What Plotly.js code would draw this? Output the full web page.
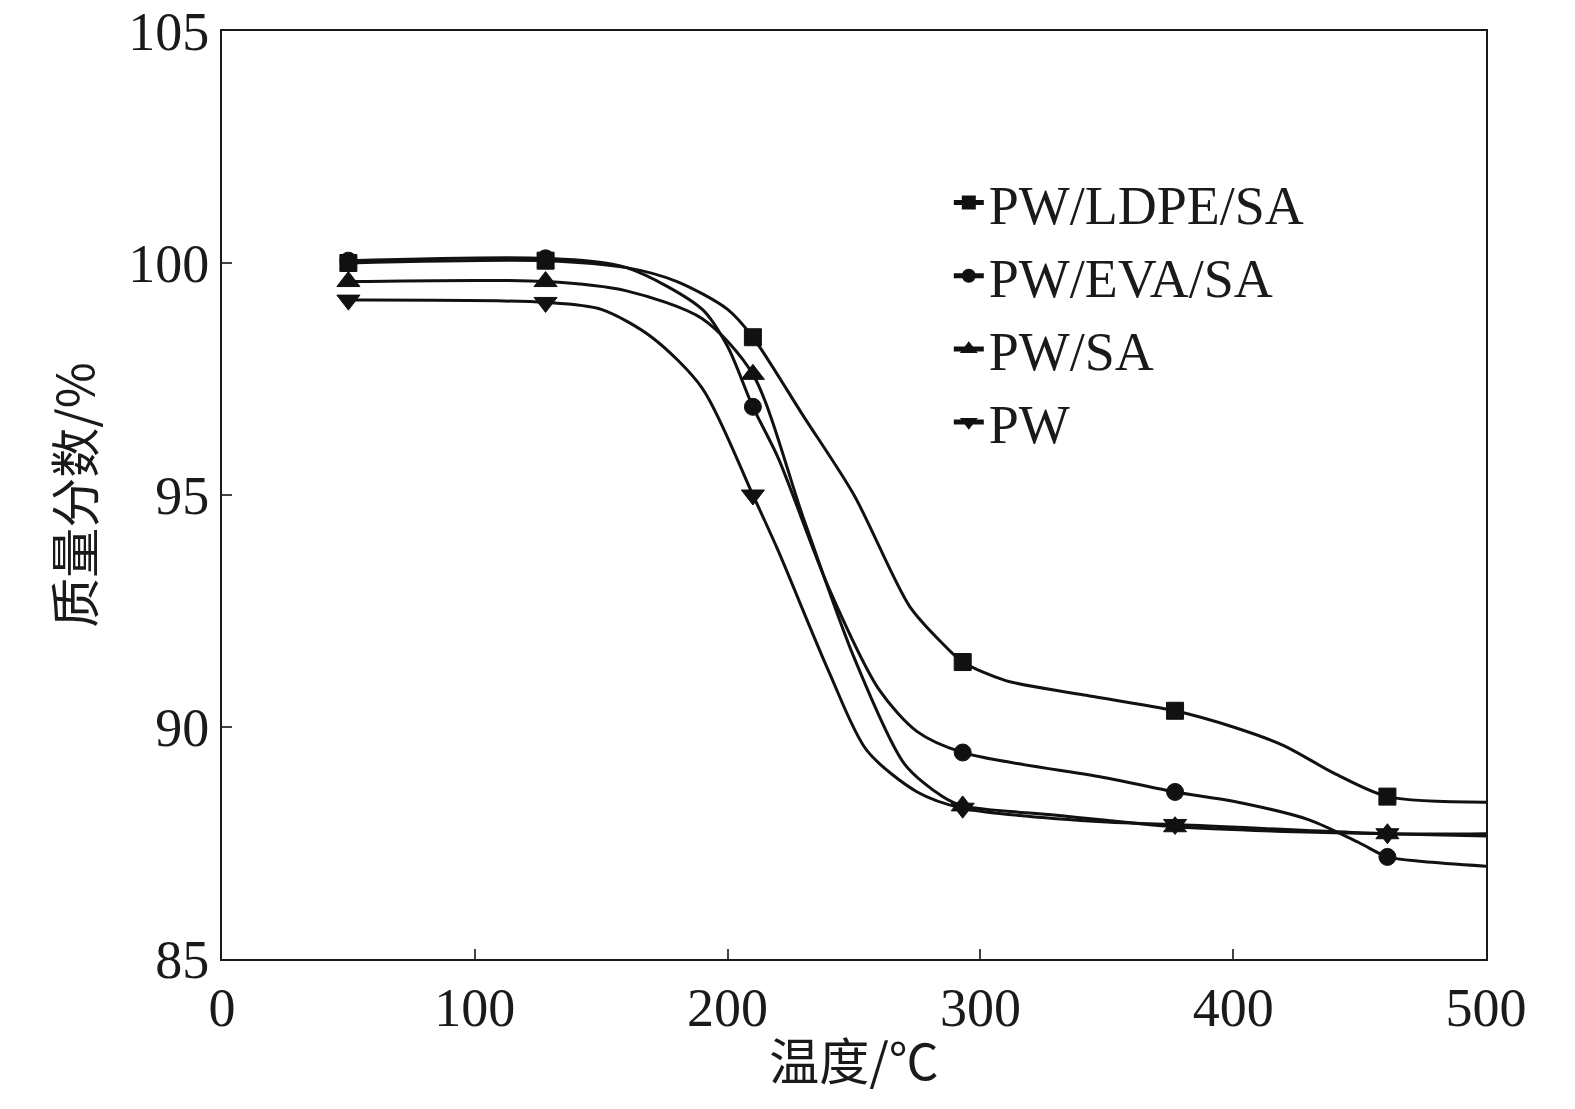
<!DOCTYPE html>
<html><head><meta charset="utf-8">
<script src="https://cdn.plot.ly/plotly-3.0.1.min.js"></script>
</head><body style="margin:0">
<div id="c" style="width:1575px;height:1109px"></div>
<script>
const markerX=[50,128,210,293,377,461];
const names=['PW/LDPE/SA','PW/EVA/SA','PW/SA','PW'];
const symbols=['square','circle','triangle-up','triangle-down'];
const x1=[50,128,160,180,200,210,230,250,272,285,293,310,340,377,400,420,440,461,500];
const y1=[100.0,100.05,99.9,99.6,99.0,98.4,96.7,95.0,92.6,91.8,91.4,91.0,90.7,90.35,90.0,89.6,89.0,88.5,88.38];
const x2=[50,128,160,190,200,210,220,240,260,275,293,350,377,400,430,450,461,475,500];
const y2=[100.05,100.1,99.9,99.0,98.2,96.9,95.8,93.0,90.8,89.9,89.45,88.9,88.6,88.4,88.0,87.5,87.2,87.1,87.0];
const x3=[50,128,160,190,210,230,250,270,285,293,330,377,420,461,500];
const y3=[99.6,99.6,99.4,98.8,97.6,94.5,91.5,89.2,88.5,88.3,88.1,87.85,87.75,87.7,87.65];
const x4=[50,128,150,170,190,210,220,240,255,275,293,350,377,461,500];
const y4=[99.2,99.15,99.0,98.4,97.3,95.0,93.8,91.2,89.5,88.6,88.25,87.95,87.9,87.7,87.7];
const X=[x1,x2,x3,x4],Y=[y1,y2,y3,y4];
const traces=X.map((xs,i)=>({x:xs,y:Y[i],name:names[i],mode:'lines+markers',
 line:{color:'#111',width:3,shape:'spline',smoothing:0.8},
 marker:{symbol:symbols[i],color:'#111',opacity:1,line:{color:'#111',width:1},size:xs.map(v=>markerX.includes(v)?(i>=2?20:17):0)}}));
const f={family:'Liberation Serif',size:54,color:'#1a1a1a'};
Plotly.newPlot('c',traces,{width:1575,height:1109,margin:{l:222,r:89,t:31,b:150},
 paper_bgcolor:'white',plot_bgcolor:'white',font:f,
 xaxis:{range:[0,500],dtick:100,ticks:'inside',ticklen:10,tickwidth:2,showline:true,linewidth:2,linecolor:'#1a1a1a',mirror:true,showgrid:false,zeroline:false,tickfont:f,
  title:{text:'温度/℃',font:{family:'Noto Sans CJK SC',size:50,color:'#1a1a1a'},standoff:8}},
 yaxis:{range:[85,105],dtick:5,ticks:'inside',ticklen:10,tickwidth:2,showline:true,linewidth:2,linecolor:'#1a1a1a',mirror:true,showgrid:false,zeroline:false,tickfont:f,
  title:{text:'质量分数/%',font:{family:'Noto Sans CJK SC',size:50,color:'#1a1a1a'},standoff:18}},
 legend:{x:0.575,y:0.86,xanchor:'left',yanchor:'top',itemsizing:'constant',font:{family:'Liberation Serif',size:54,color:'#1a1a1a'},bgcolor:'rgba(0,0,0,0)',tracegroupgap:4}
},{displayModeBar:false});
</script></body></html>
